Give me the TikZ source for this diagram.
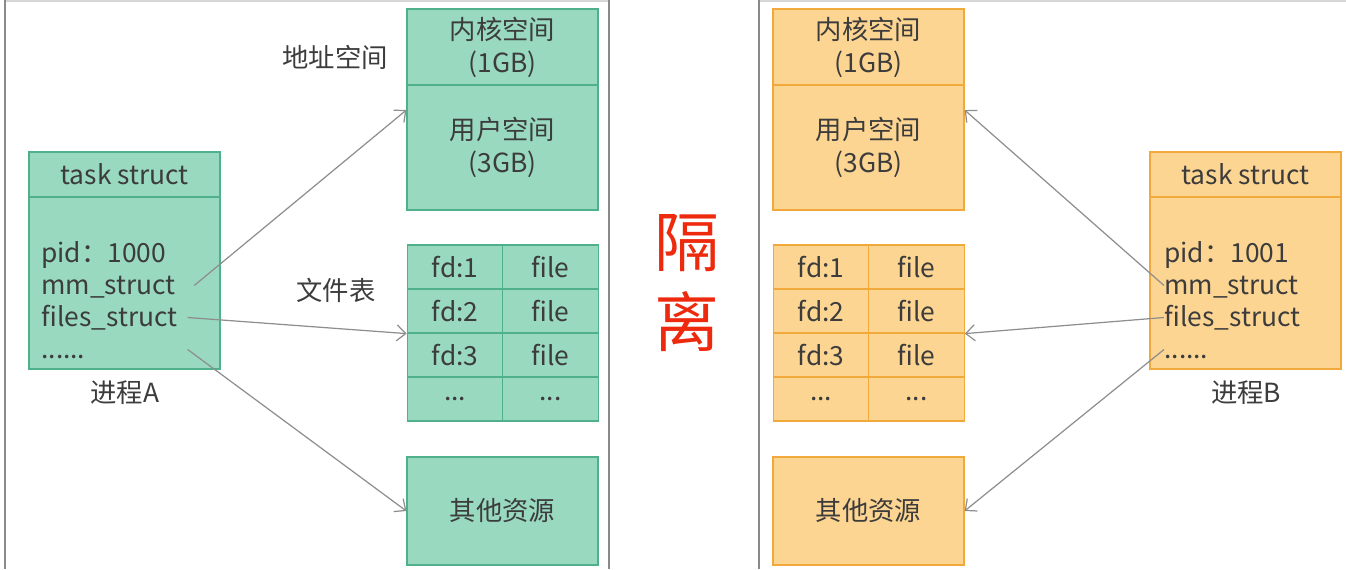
\documentclass[tikz,border=0pt]{standalone}
\usepackage{fontspec}
\setmainfont{Noto Sans CJK SC}
\usetikzlibrary{arrows.meta}
\definecolor{gfill}{HTML}{98D9C0}
\definecolor{gline}{HTML}{4FB08C}
\definecolor{ofill}{HTML}{FDD592}
\definecolor{oline}{HTML}{F2A93B}
\definecolor{txtgray}{HTML}{3C3C3C}
\definecolor{lnkgray}{HTML}{8E8E8E}
\definecolor{frmgray}{HTML}{8A8A8A}
\definecolor{isored}{HTML}{EE2A0E}
\newcommand{\tbldots}{...}
\tikzset{
  blk/.style={rectangle, fill=#1fill, draw=#1line, line width=0.7pt, text=txtgray,
              font=\fontsize{15}{18.8}\selectfont, align=center,
              minimum width=3.82cm, inner sep=0pt},
  cell/.style={blk=#1, minimum width=1.91cm, minimum height=0.88cm},
  fld/.style={anchor=base west, inner sep=0pt, text height=0.44cm, text depth=0.1cm,
              text=txtgray, font=\fontsize{15}{18.8}\selectfont},
  lbl/.style={inner sep=0pt, text=txtgray, font=\fontsize{15}{18.8}\selectfont},
  link/.style={-{Straight Barb[length=1.8mm, width=3.2mm]}, line width=0.7pt, draw=lnkgray},
  frm/.style={line width=1.1pt, draw=frmgray},
}

\begin{document}
\begin{tikzpicture}[x=0.02cm, y=-0.02cm]
  \useasboundingbox (0,0) rectangle (1346,569);
  % frames
  \draw[frmgray!35, line width=0.6pt] (5,1) -- (609,1) (759,1) -- (1346,1);
  \draw[frm] (5,0) -- (5,569);
  \draw[frm] (609,0) -- (609,569);
  \draw[frm] (759,0) -- (759,569);

  % process A
  \node[blk=g, minimum height=0.9cm] (hdrA) at (124.5,174.5) {task struct};
  \node[blk=g, minimum height=3.44cm] (bodyA) at (124.5,283) {};
  \node[fld] (pidA) at (41,262) {pid：1000};
  \node[fld] (mmA) at (41,294) {mm\_struct};
  \node[fld] (filesA) at (41,326) {files\_struct};
  \node[fld] (moreA) at (41,358) {......};
  \node[lbl] (nameA) at (125,393) {进程A};

  \node[blk=g, minimum height=1.52cm] (kernA) at (502.5,47) {内核空间\\(1GB)};
  \node[blk=g, minimum height=2.5cm] (userA) at (502.5,147.5) {用户空间\\(3GB)};
  \node[lbl] (asA) at (335,57) {地址空间};
  \foreach \r/\fd/\fl in {1/fd:1/file, 2/fd:2/file, 3/fd:3/file, 4/\tbldots/\tbldots}{
    \node[cell=g] (ftAl\r) at (455,223+44*\r) {\fd};
    \node[cell=g] (ftAr\r) at (550.5,223+44*\r) {\fl};
  }
  \node[lbl] (ftlblA) at (336,290) {文件表};
  \node[blk=g, minimum height=2.16cm] (othA) at (502.5,511) {其他资源};

  \coordinate (moreAo) at (filesA.east |- moreA.center);
  \draw[link] ([xshift=0.36cm]mmA.east) -- ([yshift=0.75cm]userA.west);
  \draw[link] ([xshift=0.2cm]filesA.east) -- (ftAl2.south west);
  \draw[link] ([xshift=0.2cm]moreAo) -- (othA.west);

  % isolation
  \node[inner sep=0pt, text=isored, font=\fontsize{37}{45.5}\selectfont, align=center] (iso) at (687,283) {隔\\离};

  % process B
  \node[blk=o, minimum height=1.52cm] (kernB) at (868.5,47) {内核空间\\(1GB)};
  \node[blk=o, minimum height=2.5cm] (userB) at (868.5,147.5) {用户空间\\(3GB)};
  \foreach \r/\fd/\fl in {1/fd:1/file, 2/fd:2/file, 3/fd:3/file, 4/\tbldots/\tbldots}{
    \node[cell=o] (ftBl\r) at (821,223+44*\r) {\fd};
    \node[cell=o] (ftBr\r) at (916.5,223+44*\r) {\fl};
  }
  \node[blk=o, minimum height=2.16cm] (othB) at (868.5,511) {其他资源};

  \node[blk=o, minimum height=0.9cm] (hdrB) at (1245.5,174.5) {task struct};
  \node[blk=o, minimum height=3.44cm] (bodyB) at (1245.5,283) {};
  \node[fld] (pidB) at (1164,262) {pid：1001};
  \node[fld] (mmB) at (1164,294) {mm\_struct};
  \node[fld] (filesB) at (1164,326) {files\_struct};
  \node[fld] (moreB) at (1164,358) {......};
  \node[lbl] (nameB) at (1246,393) {进程B};

  \draw[link] (mmB.west) -- ([yshift=0.75cm]userB.east);
  \draw[link] (filesB.west) -- (ftBr2.south east);
  \draw[link] (moreB.west) -- (othB.east);
\end{tikzpicture}
\end{document}
